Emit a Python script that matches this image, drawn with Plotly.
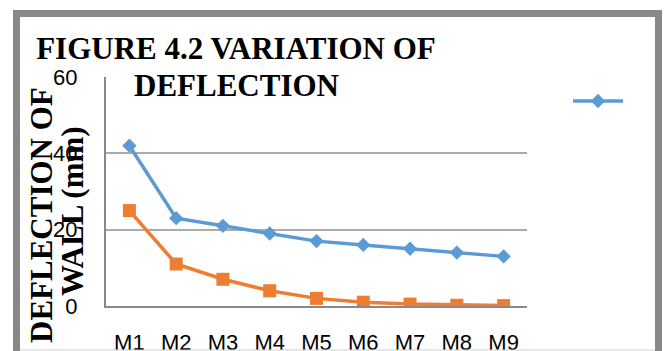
import plotly.graph_objects as go

categories = ["M1", "M2", "M3", "M4", "M5", "M6", "M7", "M8", "M9"]
series1 = [42, 23, 21, 19, 17, 16, 15, 14, 13]
series2 = [25, 11, 7, 4, 2, 1, 0.5, 0.2, 0.1]
y_ticks = [0, 20, 40, 60]

W, H = 665, 351
L, R, T, B = 106, 138, 77, 45
pw, ph = W - L - R, H - T - B

def px_x(p):
    return (p - L) / pw

def px_y(p):
    return (H - B - p) / ph

fig = go.Figure()
fig.add_trace(go.Scatter(
    x=categories, y=series1, mode="lines+markers", name="",
    line=dict(color="#5B9BD5", width=3.5),
    marker=dict(symbol="diamond", size=11, color="#5B9BD5"),
    showlegend=True,
))
fig.add_trace(go.Scatter(
    x=categories, y=series2, mode="lines+markers", name="",
    line=dict(color="#ED7D31", width=3.5),
    marker=dict(symbol="square", size=13, color="#ED7D31"),
    showlegend=False,
))

serif = "Liberation Serif"
fig.update_layout(
    width=W, height=H,
    margin=dict(l=L, r=R, t=T, b=B, autoexpand=False),
    paper_bgcolor="white", plot_bgcolor="white",
    title=dict(
        text="<b>FIGURE 4.2 VARIATION OF</b>",
        font=dict(family=serif, size=31, color="black"),
        x=236 / W, xanchor="center", xref="container",
        y=1 - 37 / H, yanchor="top", yref="container",
        automargin=False,
    ),
    xaxis=dict(
        type="category", range=[-0.5, 8.5], automargin=False,
        showline=True, linecolor="#898989", linewidth=2,
        showgrid=False, ticks="", zeroline=False,
        tickfont=dict(family="Liberation Sans", size=22, color="black"),
        ticklabelstandoff=16,
    ),
    yaxis=dict(
        range=[0, 60], tickvals=y_ticks, ticktext=[str(v) for v in y_ticks],
        automargin=False,
        showline=True, linecolor="#898989", linewidth=2,
        showgrid=True, gridcolor="#ABABAB", gridwidth=2,
        ticks="", zeroline=False,
        tickfont=dict(family="Liberation Sans", size=22, color="black"),
        ticklabelstandoff=22,
    ),
    legend=dict(
        x=px_x(568), y=px_y(101), xanchor="left", yanchor="middle",
        bgcolor="rgba(0,0,0,0)", font=dict(size=12), itemwidth=50,
    ),
    showlegend=True,
)

# second title line
fig.add_annotation(
    text="<b>DEFLECTION</b>",
    x=px_x(236), y=px_y(85), xref="paper", yref="paper",
    xanchor="center", yanchor="middle", showarrow=False,
    font=dict(family=serif, size=31, color="black"),
)

# y-axis title, two lines
fig.add_annotation(
    text="<b>DEFLECTION OF</b>", textangle=-90,
    x=px_x(41), y=px_y(215), xref="paper", yref="paper",
    xanchor="center", yanchor="middle", showarrow=False,
    font=dict(family=serif, size=31, color="black"),
)
fig.add_annotation(
    text="<b>WALL (mm)</b>", textangle=-90,
    x=px_x(72), y=px_y(211), xref="paper", yref="paper",
    xanchor="center", yanchor="middle", showarrow=False,
    font=dict(family=serif, size=31, color="black"),
)

# chart frame
fig.add_shape(type="rect", xref="paper", yref="paper",
              x0=px_x(16.5), x1=px_x(658.5), y0=px_y(13.5), y1=px_y(420),
              line=dict(color="#888888", width=7), layer="below")
fig.add_shape(type="line", xref="paper", yref="paper",
              x0=px_x(20), x1=px_x(655), y0=px_y(350), y1=px_y(350),
              line=dict(color="#D0D0D0", width=1))

fig.write_html("out.html")
